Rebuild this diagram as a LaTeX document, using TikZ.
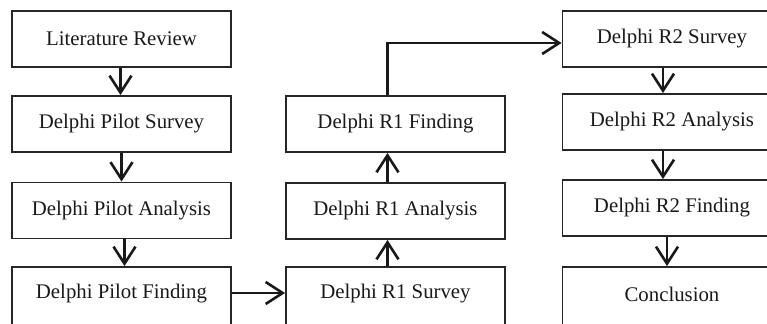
\documentclass[tikz,border=0pt]{standalone}
\usepackage{fontspec}
\setmainfont{Liberation Serif}
\usetikzlibrary{arrows.meta}
\tikzset{
  stage/.style={draw=black!85, line width=0.95pt, minimum width=109.5pt, minimum height=28pt,
    inner sep=0pt, font=\fontsize{10.4}{12}\selectfont, text=black!90},
  tallstage/.style={stage, minimum height=32pt},
  flow/.style={line width=1.3pt, draw=black!90,
    -{Straight Barb[length=8.5pt,width=11pt,line width=1.3pt]}}
}
\begin{document}
\begin{tikzpicture}[x=0.5pt,y=-0.5pt]
  \useasboundingbox (0,0) rectangle (767,324);
  \clip (0,0) rectangle (767,324);
  \fill[white] (0,0) rectangle (767,324);

  % pilot column
  \node[stage] (lit) at (121.5,39)    {Literature Review};
  \node[stage] (ps)  at (121.5,124)   {Delphi Pilot Survey};
  \node[stage] (pa)  at (121.5,210.5) {Delphi Pilot Analysis};
  \node[tallstage] (pf)  at (121.5,299) {};
  \node[font=\fontsize{10.4}{12}\selectfont, text=black!90] (pft) at (121.5,294) {Delphi Pilot Finding};

  % round 1 column
  \node[tallstage] (r1s) at (395.5,299) {};
  \node[font=\fontsize{10.4}{12}\selectfont, text=black!90] (r1st) at (395.5,294) {Delphi R1 Survey};
  \node[stage] (r1a) at (395.5,211)   {Delphi R1 Analysis};
  \node[stage] (r1f) at (395.5,124)   {Delphi R1 Finding};

  % round 2 column
  \node[stage] (r2s) at (672,39)  {Delphi R2 Survey};
  \node[stage] (r2a) at (672,122) {Delphi R2 Analysis};
  \node[stage] (r2f) at (672,208) {Delphi R2 Finding};
  \node[tallstage] (con) at (672,299) {};
  \node[font=\fontsize{10.4}{12}\selectfont, text=black!90] (cont) at (672,294) {Conclusion};

  % connectors
  \draw[flow] ([xshift=-0.5pt]lit.south) -- ([xshift=-0.5pt]ps.north);
  \draw[flow] (ps.south) -- (pa.north);
  \draw[flow] ([xshift=1.5pt]pa.south) -- ([xshift=1.5pt]pf.north);
  \draw[flow] (pf.east |- 0,293) -- (r1s.west |- 0,293);
  \draw[flow] ([xshift=-4pt]r1s.north) -- ([xshift=-4pt]r1a.south);
  \draw[flow] ([xshift=-4pt]r1a.north) -- ([xshift=-4pt]r1f.south);
  \draw[flow] ([xshift=-4pt]r1f.north) |- (r2s.west |- 0,43);
  \draw[flow] ([xshift=-4.5pt]r2s.south) -- ([xshift=-4.5pt]r2a.north);
  \draw[flow] ([xshift=-4.5pt]r2a.south) -- ([xshift=-4.5pt]r2f.north);
  \draw[flow] ([xshift=-2.5pt]r2f.south) -- ([xshift=-2.5pt]con.north);
\end{tikzpicture}
\end{document}
